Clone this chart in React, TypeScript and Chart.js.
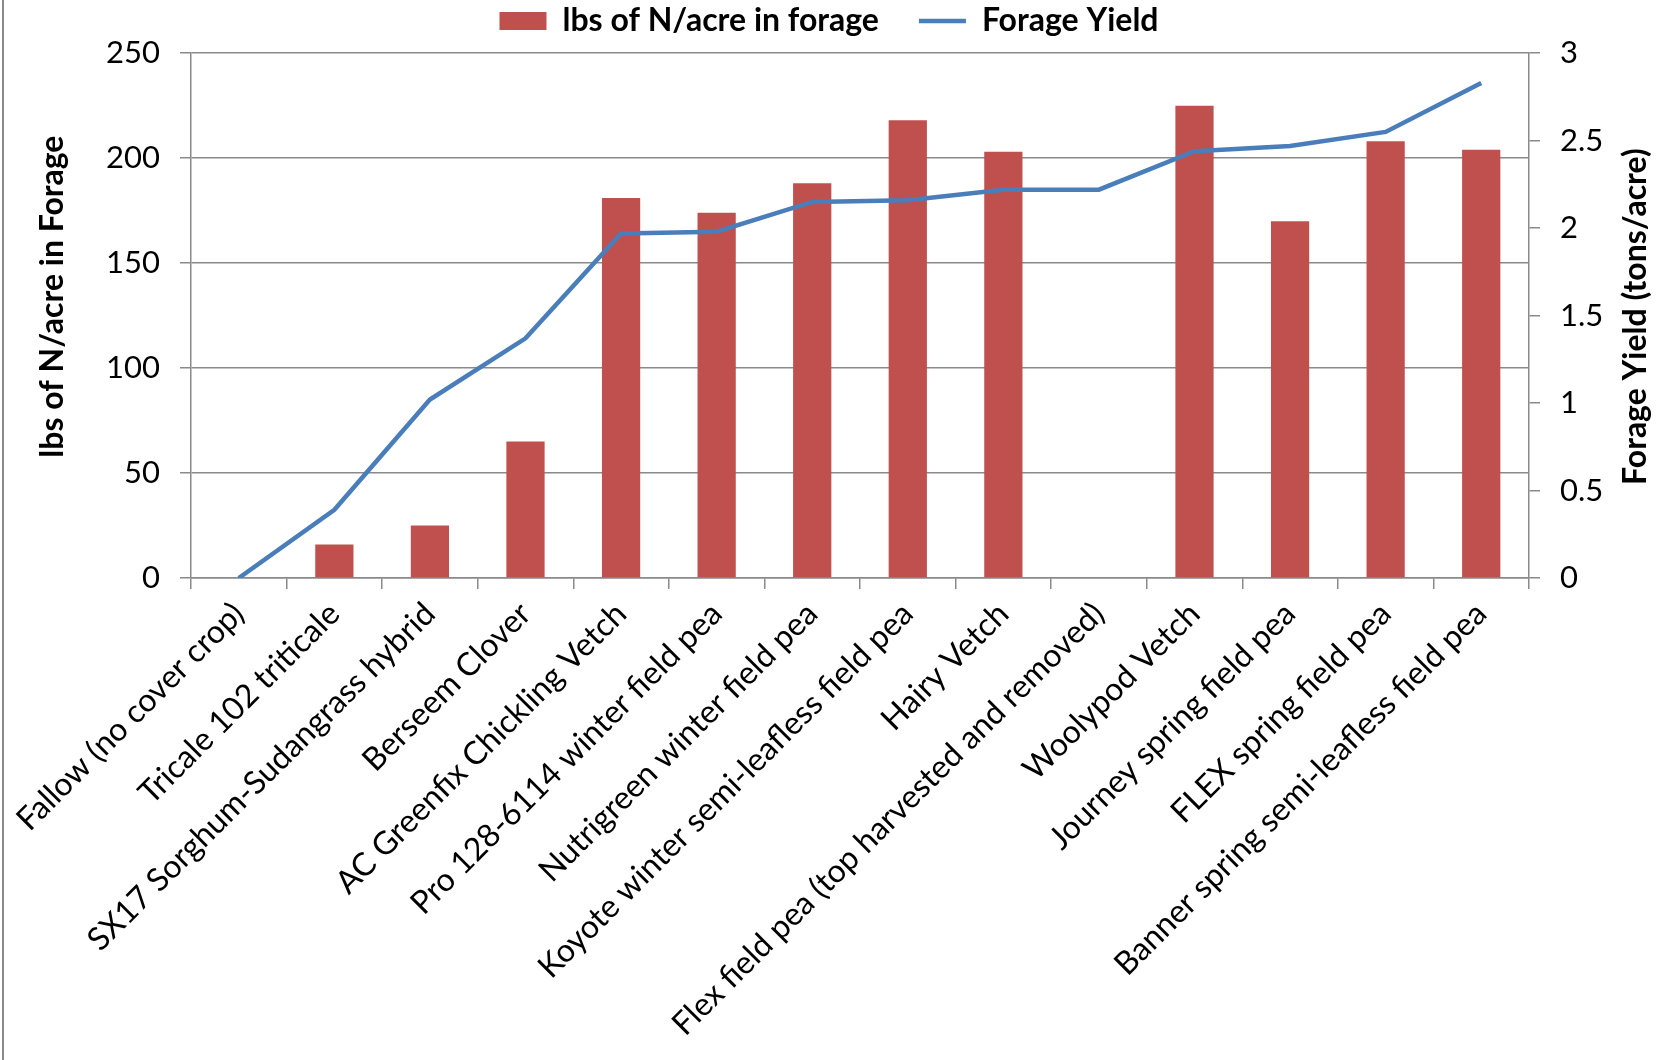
import React, { useEffect, useRef } from "react";
import { Chart, registerables } from "chart.js";

Chart.register(...registerables);

// ---- data ----
const categories = [
  "Fallow (no cover crop)",
  "Tricale 102 triticale",
  "SX17 Sorghum-Sudangrass hybrid",
  "Berseem Clover",
  "AC Greenfix Chickling Vetch",
  "Pro 128-6114 winter field pea",
  "Nutrigreen winter field pea",
  "Koyote winter semi-leafless field pea",
  "Hairy Vetch",
  "Flex field pea (top harvested and removed)",
  "Woolypod Vetch",
  "Journey spring field pea",
  "FLEX spring field pea",
  "Banner spring semi-leafless field pea",
];
const nitrogenValues = [0, 16, 25, 65, 181, 174, 188, 218, 203, 0, 225, 170, 208, 204];
const yieldValues = [0, 0.39, 1.02, 1.37, 1.97, 1.98, 2.15, 2.16, 2.22, 2.22, 2.44, 2.47, 2.55, 2.83];
const leftAxisRange = [0, 250];
const leftAxisStep = 50;
const rightAxisRange = [0, 3];
const rightAxisStep = 0.5;

const barLabel = "lbs of N/acre in forage";
const lineLabel = "Forage Yield";
const leftTitle = "lbs of N/acre in Forage";
const rightTitle = "Forage Yield (tons/acre)";

// ---- styles ----
const W = 1658;
const H = 1060;
const FONT = "Lato, 'Open Sans', sans-serif";
const GRID = "#8a8a8a";
const BAR_COLOR = "#C0504D";
const LINE_COLOR = "#4A7EBB";
const TITLE_SIZE = 32;

const axisTitlesPlugin = {
  id: "axisTitles",
  afterDraw(chart: any) {
    const { ctx, chartArea } = chart;
    const midY = (chartArea.top + chartArea.bottom) / 2;
    ctx.save();
    ctx.font = `bold ${TITLE_SIZE}px ${FONT}`;
    ctx.fillStyle = "#000";
    ctx.textAlign = "center";
    ctx.textBaseline = "middle";
    // left title
    ctx.save();
    ctx.translate(53, midY - 19);
    ctx.rotate(-Math.PI / 2);
    ctx.fillText(leftTitle, 0, 0);
    ctx.restore();
    // right title
    ctx.save();
    ctx.translate(chart.width - 22, midY + 1);
    ctx.rotate(-Math.PI / 2);
    ctx.fillText(rightTitle, 0, 0);
    ctx.restore();
    ctx.restore();
  },
};

export default function App() {
  const canvasRef = useRef<HTMLCanvasElement | null>(null);

  useEffect(() => {
    document.body.style.margin = "0";
    const canvas = canvasRef.current;
    if (!canvas) return;
    const tickFont = { family: FONT, size: 31 };
    const xFont = { family: FONT, size: 32 };
    const chart = new Chart(canvas, {
      type: "bar",
      data: {
        labels: categories,
        datasets: [
          {
            type: "bar",
            label: barLabel,
            data: nitrogenValues,
            backgroundColor: BAR_COLOR,
            borderWidth: 0,
            yAxisID: "y",
            order: 2,
            barPercentage: 0.4,
            categoryPercentage: 1,
            pointStyle: "rect",
          } as any,
          {
            type: "line",
            label: lineLabel,
            data: yieldValues,
            borderColor: LINE_COLOR,
            backgroundColor: LINE_COLOR,
            borderWidth: 4.5,
            pointRadius: 0,
            tension: 0,
            fill: false,
            yAxisID: "y2",
            order: 1,
            pointStyle: "line",
          } as any,
        ],
      },
      options: {
        responsive: false,
        devicePixelRatio: 1,
        animation: false,
        layout: { padding: { top: -35, left: 0, right: 0, bottom: 0 } },
        plugins: {
          legend: {
            position: "top",
            labels: {
              usePointStyle: true,
              pointStyleWidth: 47,
              boxHeight: 18,
              padding: 40,
              color: "#000",
              font: { family: FONT, size: 32, weight: "bold" },
              sort: (a: any, b: any) => a.datasetIndex - b.datasetIndex,
            },
          },
          subtitle: {
            display: true,
            text: "",
            weight: 500,
            font: { size: 1 },
            padding: { top: 0, bottom: 5 },
          } as any,
          tooltip: { enabled: false },
        },
        scales: {
          x: {
            grid: {
              offset: true,
              drawOnChartArea: false,
              drawTicks: true,
              tickLength: 11,
              color: GRID,
              lineWidth: 1.5,
            },
            border: { color: GRID, width: 1.5 },
            ticks: {
              autoSkip: false,
              maxRotation: 45,
              minRotation: 45,
              padding: 6,
              color: "#000",
              font: xFont,
            },
            afterFit(scale: any) {
              scale.height = H - 578;
              scale.paddingLeft = 0;
              scale.paddingRight = 0;
            },
          },
          y: {
            position: "left",
            min: leftAxisRange[0],
            max: leftAxisRange[1],
            ticks: { stepSize: leftAxisStep, padding: 20, color: "#000", font: tickFont },
            grid: { color: GRID, lineWidth: 1.5, tickLength: 11, drawTicks: true },
            border: { color: GRID, width: 1.5 },
            afterFit(scale: any) {
              scale.width = 191;
            },
          },
          y2: {
            position: "right",
            min: rightAxisRange[0],
            max: rightAxisRange[1],
            ticks: {
              stepSize: rightAxisStep,
              padding: 20,
              color: "#000",
              font: tickFont,
              callback: (v: any) => String(Number(v)),
            },
            grid: {
              drawOnChartArea: false,
              color: GRID,
              lineWidth: 1.5,
              tickLength: 11,
              drawTicks: true,
            },
            border: { color: GRID, width: 1.5 },
            afterFit(scale: any) {
              scale.width = W - 1529;
            },
          },
        },
      } as any,
      plugins: [axisTitlesPlugin],
    });
    return () => chart.destroy();
  }, []);

  return (
    <div style={{ position: "relative", width: W, height: H, background: "#fff" }}>
      <canvas ref={canvasRef} width={W} height={H} style={{ display: "block" }} />
      <div
        style={{
          position: "absolute",
          left: 2,
          top: 0,
          width: 2,
          height: H,
          background: GRID,
        }}
      />
    </div>
  );
}
